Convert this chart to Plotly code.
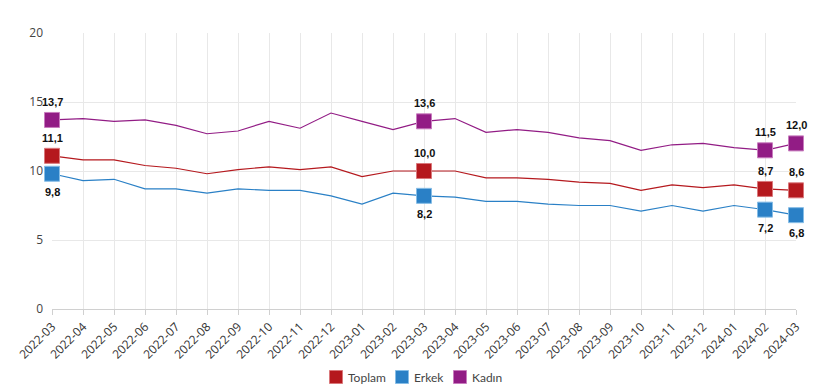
import plotly.graph_objects as go

months = ["2022-03","2022-04","2022-05","2022-06","2022-07","2022-08","2022-09","2022-10",
          "2022-11","2022-12","2023-01","2023-02","2023-03","2023-04","2023-05","2023-06",
          "2023-07","2023-08","2023-09","2023-10","2023-11","2023-12","2024-01","2024-02","2024-03"]
toplam = [11.1,10.8,10.8,10.4,10.2,9.8,10.1,10.3,10.1,10.3,9.6,10.0,10.0,10.0,9.5,9.5,
          9.4,9.2,9.1,8.6,9.0,8.8,9.0,8.7,8.6]
erkek = [9.8,9.3,9.4,8.7,8.7,8.4,8.7,8.6,8.6,8.2,7.6,8.4,8.2,8.1,7.8,7.8,
         7.6,7.5,7.5,7.1,7.5,7.1,7.5,7.2,6.8]
kadin = [13.7,13.8,13.6,13.7,13.3,12.7,12.9,13.6,13.1,14.2,13.6,13.0,13.6,13.8,12.8,13.0,
         12.8,12.4,12.2,11.5,11.9,12.0,11.7,11.5,12.0]
highlight = [0, 12, 23, 24]
yticks = [0, 5, 10, 15, 20]

series = [
    ("Toplam", toplam, "#B5191E", "#d9787b", 1),
    ("Erkek", erkek, "#2A80C6", "#86bde6", -1),
    ("Kadın", kadin, "#921C85", "#c87cbe", 1),
]

W, H = 831, 386
L, R, T, B = 52, 35, 33, 77
PW, PH = W - L - R, H - T - B

def px_x(p):
    return (p - L) / PW

def px_y(p):
    return (H - B - p) / PH

fig = go.Figure()
annotations = []
shapes = []
for name, vals, col, edge, side in series:
    sizes = [15 if i in highlight else 0 for i in range(len(vals))]
    fig.add_trace(go.Scatter(
        x=months, y=vals, mode="lines+markers", name=name, showlegend=False,
        line=dict(color=col, width=1.2),
        marker=dict(symbol="square", size=sizes, color=col, opacity=1,
                    line=dict(color=edge, width=1)),
        cliponaxis=False,
    ))
    for i in highlight:
        annotations.append(dict(
            x=months[i], y=vals[i], xref="x", yref="y", showarrow=False,
            text=f"{vals[i]:.1f}".replace(".", ","), yshift=18 * side,
            font=dict(family="Liberation Sans", size=11, color="#111", weight="bold"),
        ))

# manual legend (compact, like the reference)
legend_centers = [336, 402, 460]
legend_y = 377
for (name, vals, col, edge, side), cx in zip(series, legend_centers):
    shapes.append(dict(
        type="rect", xref="paper", yref="paper",
        x0=px_x(cx - 6.5), x1=px_x(cx + 6.5), y0=px_y(legend_y + 6.5), y1=px_y(legend_y - 6.5),
        fillcolor=col, line=dict(color=edge, width=1),
    ))
    annotations.append(dict(
        x=px_x(cx + 10), y=px_y(legend_y), xref="paper", yref="paper",
        xanchor="left", yanchor="middle", showarrow=False, text=name,
        font=dict(family="Lato", size=12, color="#444"),
    ))

fig.update_layout(
    width=W, height=H,
    margin=dict(l=L, r=R, t=T, b=B, autoexpand=False),
    paper_bgcolor="white", plot_bgcolor="white",
    font=dict(family="Open Sans", size=12, color="#333"),
    annotations=annotations, shapes=shapes, showlegend=False,
)
fig.update_xaxes(
    type="category", tickangle=-45, showgrid=True, gridcolor="#e8e8e8", gridwidth=1,
    ticks="outside", ticklen=5, tickcolor="#d0d0d0", showline=True, linecolor="#d0d0d0",
    tickfont=dict(size=12, color="#333"), range=[0, len(months) - 1], zeroline=False,
    automargin=False,
)
fig.update_yaxes(
    range=[0, 20], tickvals=yticks, showgrid=True, gridcolor="#e8e8e8", gridwidth=1,
    zeroline=False, showline=False, ticks="", tickfont=dict(size=12, color="#444"),
    ticklabelstandoff=8, automargin=False,
)
fig.write_html("out.html", config={"displayModeBar": False},
               post_script="document.body.style.margin='0';")
